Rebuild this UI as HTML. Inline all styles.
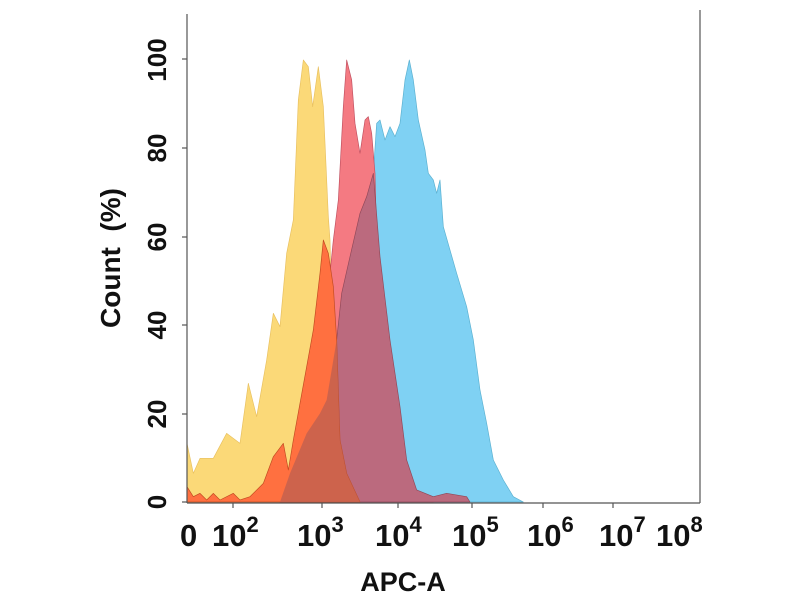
<!DOCTYPE html>
<html><head><style>body{margin:0;background:#fff}svg{display:block}</style></head><body>
<svg width="800" height="600" viewBox="0 0 800 600" font-family="Liberation Sans, sans-serif" font-weight="bold">
<rect width="800" height="600" fill="#fff"/>
<g transform="translate(180,40) scale(0.33333)" stroke-linejoin="round">
<polygon fill="#fbd978" stroke="#e8c060" stroke-width="2" points="21,1386 21,1210 40,1300 60,1255 100,1255 140,1180 180,1210 205,1030 230,1130 260,960 280,820 300,860 320,640 340,540 355,180 370,60 385,80 398,200 415,80 430,200 445,530 450,600 455,800 470,1150 500,1300 540,1386"/>
<polygon fill="#7fd1f3" stroke="#5ab0d0" stroke-width="2" points="450,1386 500,1000 560,500 580,400 590,250 600,240 615,300 630,260 645,290 660,250 675,120 688,60 700,120 715,240 735,330 745,400 760,420 770,460 780,420 790,560 830,700 860,800 880,900 900,1050 920,1150 940,1260 970,1320 1000,1370 1030,1386"/>
<polygon fill="#f47a82" stroke="#c05060" stroke-width="2" points="300,1386 420,1200 430,1100 450,700 460,600 475,480 490,200 500,60 515,120 525,250 540,340 555,240 565,230 575,280 585,400 590,600 600,800 620,1000 650,1200 680,1300 710,1360 760,1386"/>
<polygon fill="#bb6a7e" stroke="#904858" stroke-width="2" points="300,1386 420,1200 440,1080 470,900 485,760 510,650 540,520 560,470 580,400 600,650 630,900 660,1100 680,1260 710,1350 760,1370 800,1360 860,1370 870,1386"/>
<polygon fill="#ff7040" stroke="#c04a20" stroke-width="2" points="21,1386 21,1340 40,1370 60,1360 80,1380 100,1360 120,1380 160,1360 180,1380 210,1370 250,1330 280,1250 310,1210 325,1290 340,1200 360,1090 380,980 400,870 420,700 430,600 445,640 460,740 470,900 480,1200 500,1300 540,1386"/>
<polygon fill="#c0604f" opacity="0.8" points="300,1386 330,1300 380,1180 420,1120 440,1080 470,900 480,1200 500,1300 540,1386"/>
</g>
<g stroke="#555" stroke-width="1.2" fill="none">
<line x1="187" y1="14" x2="187" y2="503"/>
<line x1="187" y1="503" x2="700" y2="503"/>
<line x1="700" y1="10" x2="700" y2="503"/>
<line x1="182" y1="59" x2="187" y2="59"/><line x1="182" y1="148" x2="187" y2="148"/><line x1="182" y1="237" x2="187" y2="237"/><line x1="182" y1="325" x2="187" y2="325"/><line x1="182" y1="414" x2="187" y2="414"/><line x1="182" y1="502" x2="187" y2="502"/>
<line x1="233" y1="503" x2="233" y2="508"/><line x1="322" y1="503" x2="322" y2="508"/><line x1="398" y1="503" x2="398" y2="508"/><line x1="472" y1="503" x2="472" y2="508"/><line x1="543" y1="503" x2="543" y2="508"/><line x1="613" y1="503" x2="613" y2="508"/>
</g>
<g font-size="26" fill="#111" text-anchor="middle">
<text transform="translate(166,60) rotate(-90)">100</text>
<text transform="translate(166,148) rotate(-90)">80</text>
<text transform="translate(166,237) rotate(-90)">60</text>
<text transform="translate(166,325) rotate(-90)">40</text>
<text transform="translate(166,414) rotate(-90)">20</text>
<text transform="translate(166,502) rotate(-90)">0</text>
<text transform="translate(120,258) rotate(-90)" font-size="28" xml:space="preserve">Count  (%)</text>
</g>
<g font-size="31" fill="#111">
<text x="180" y="546">0</text>
<text x="212" y="546">10<tspan dy="-14" font-size="22">2</tspan></text>
<text x="297" y="546">10<tspan dy="-14" font-size="22">3</tspan></text>
<text x="375" y="546">10<tspan dy="-14" font-size="22">4</tspan></text>
<text x="452" y="546">10<tspan dy="-14" font-size="22">5</tspan></text>
<text x="527" y="546">10<tspan dy="-14" font-size="22">6</tspan></text>
<text x="599" y="546">10<tspan dy="-14" font-size="22">7</tspan></text>
<text x="656" y="546">10<tspan dy="-14" font-size="22">8</tspan></text>
<text x="403" y="591" text-anchor="middle" font-size="27">APC-A</text>
</g>
</svg>
</body></html>
